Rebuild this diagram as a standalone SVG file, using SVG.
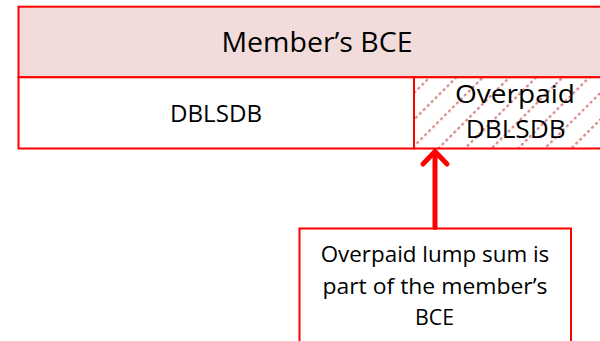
<svg xmlns="http://www.w3.org/2000/svg" width="600" height="341" viewBox="0 0 600 341">
  <defs>
    <style>
      .box { stroke: #ff0000; stroke-width: 2; }
      .lbl { font-family: "Open Sans", "Noto Sans", "Liberation Sans", sans-serif; fill: #000000; text-anchor: middle; }
      .conn { stroke: #ff0000; stroke-width: 5; fill: none; stroke-linecap: round; stroke-linejoin: round; }
    </style>
    <!-- dotted upward-diagonal hatch -->
    <pattern id="hatch" patternUnits="userSpaceOnUse" width="18.81" height="5.6" patternTransform="rotate(45)">
      <line x1="1.1" y1="0" x2="1.1" y2="5.6" stroke="#d68c8a" stroke-width="2.3" stroke-dasharray="3 2.6"/>
    </pattern>
  </defs>

  <rect width="600" height="341" fill="#ffffff"/>

  <g id="bce">
    <rect class="box" x="18.5" y="6.7" width="610" height="70.6" fill="#f2dcdb"/>
    <text class="lbl" x="317" y="51.7" font-size="28" textLength="191" lengthAdjust="spacingAndGlyphs">Member’s BCE</text>
  </g>

  <g id="dblsdb">
    <rect class="box" x="18.5" y="77.3" width="395.5" height="71.2" fill="#ffffff"/>
    <text class="lbl" x="216" y="121.7" font-size="23.5" textLength="92" lengthAdjust="spacingAndGlyphs">DBLSDB</text>
  </g>

  <g id="overpaid-dblsdb">
    <rect x="414" y="77.3" width="210" height="71.2" fill="#ffffff"/>
    <rect class="box" x="414" y="77.3" width="210" height="71.2" fill="url(#hatch)"/>
    <text class="lbl" x="515" y="103.3" font-size="26" textLength="120" lengthAdjust="spacingAndGlyphs">Overpaid</text>
    <text class="lbl" x="515.7" y="138.3" font-size="26" textLength="100" lengthAdjust="spacingAndGlyphs">DBLSDB</text>
  </g>

  <g id="note">
    <rect class="box" x="299.5" y="228.5" width="271.5" height="130" fill="#ffffff"/>
    <text class="lbl" x="435" y="261.7" font-size="22" textLength="228.6" lengthAdjust="spacingAndGlyphs">Overpaid lump sum is</text>
    <text class="lbl" x="435" y="293.5" font-size="22" textLength="225" lengthAdjust="spacingAndGlyphs">part of the member’s</text>
    <text class="lbl" x="434.6" y="325" font-size="22" textLength="39" lengthAdjust="spacingAndGlyphs">BCE</text>
  </g>

  <g id="connectors">
    <line class="conn" x1="435" y1="227.5" x2="435" y2="153" stroke-linecap="butt"/>
    <polyline class="conn" points="423,164 435,151.5 447,164"/>
  </g>
</svg>
